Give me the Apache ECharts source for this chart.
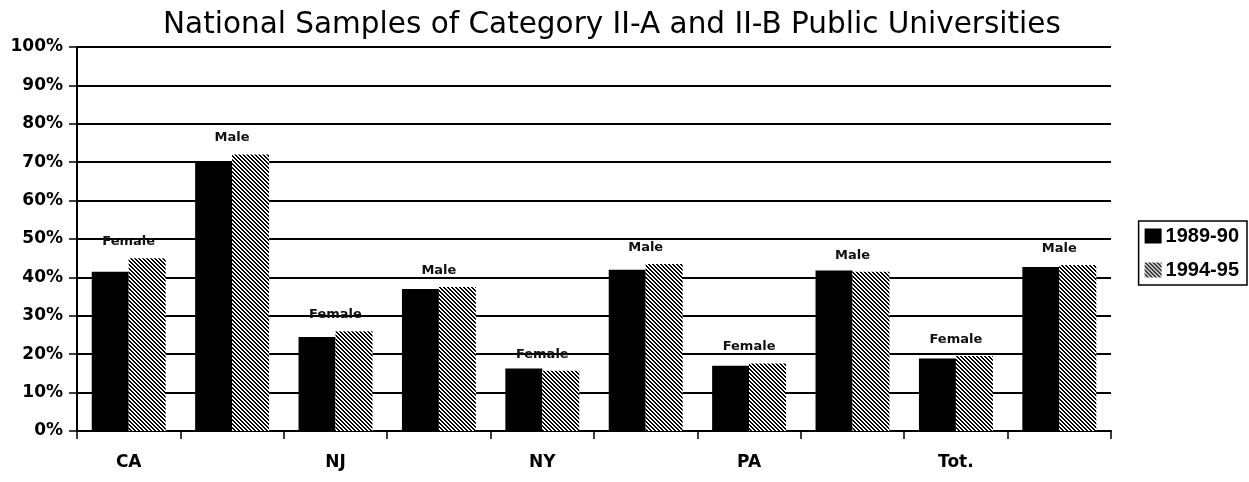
<!DOCTYPE html>
<html>
<head>
<meta charset="utf-8">
<script src="https://cdn.jsdelivr.net/npm/echarts@6/dist/echarts.min.js"></script>
<style>
  html, body { margin: 0; padding: 0; background: #fff; }
  #chart { width: 1249px; height: 482px; }
</style>
</head>
<body>
<div id="chart"></div>
<script>
// chart data
const states = ['CA', 'NJ', 'NY', 'PA', 'Tot.']
const genders = ['Female', 'Male']
const yearA = [41.5, 70, 24.5, 37, 16.3, 42, 17, 41.8, 18.9, 42.7]   // 1989-90
const yearB = [45, 72, 26, 37.5, 15.7, 43.5, 17.6, 41.5, 19.5, 43.2] // 1994-95
const yTicks = [0, 10, 20, 30, 40, 50, 60, 70, 80, 90, 100]

// one category per state/gender pair
const categories = []
states.forEach(s => genders.forEach(g => categories.push(s + ' ' + g)))

// "\\\" stripes, 2px black / 2px white
function hatch() {
  const c = document.createElement('canvas')
  c.width = 8
  c.height = 8
  const ctx = c.getContext('2d')
  ctx.fillStyle = '#fff'
  ctx.fillRect(0, 0, 8, 8)
  ctx.fillStyle = '#000'
  for (let y = 0; y < 8; y++) {
    for (let x = 0; x < 8; x++) {
      if (((x - y) % 4 + 4) % 4 < 2) ctx.fillRect(x, y, 1, 1)
    }
  }
  return c
}

const chart = echarts.init(document.getElementById('chart'))

const option = {
  animation: false,
  textStyle: { fontFamily: 'Liberation Sans, Arial, sans-serif' },
  title: {
    text: 'National Samples of Category II-A and II-B Public Universities',
    left: 158,
    top: 5,
    textStyle: { fontFamily: 'DejaVu Sans', fontSize: 29.5, fontWeight: 'normal', color: '#000' }
  },
  legend: {
    orient: 'vertical',
    right: 2,
    top: 221,
    icon: 'rect',
    itemWidth: 17,
    itemHeight: 15,
    itemGap: 14,
    padding: [5, 8, 5, 6],
    borderColor: '#000',
    borderWidth: 1.5,
    textStyle: { fontSize: 20, fontWeight: 'bold', color: '#000', padding: [0, 0, 0, -1] },
    data: ['1989-90', '1994-95']
  },
  grid: { left: 77, right: 138, top: 47, bottom: 51 },
  xAxis: {
    type: 'category',
    data: categories,
    axisLine: { lineStyle: { color: '#000', width: 2 } },
    axisTick: { show: true, length: 8, lineStyle: { color: '#000', width: 1.5 } },
    axisLabel: {
      interval: 0,
      margin: 23,
      fontFamily: 'DejaVu Sans',
      fontSize: 17,
      fontWeight: 'bold',
      color: '#000',
      formatter: (v, i) => (i % 2 === 0 ? states[i / 2] : '')
    }
  },
  yAxis: {
    type: 'value',
    min: 0,
    max: 100,
    interval: 10,
    axisLine: { show: true, lineStyle: { color: '#000', width: 2 } },
    axisTick: { show: true, length: 8, lineStyle: { color: '#000', width: 1.5 } },
    axisLabel: {
      margin: 14,
      fontFamily: 'DejaVu Sans',
      fontSize: 17,
      fontWeight: 'bold',
      color: '#000',
      formatter: v => (yTicks.includes(v) ? v + '%' : '')
    },
    splitLine: { lineStyle: { color: '#000', width: 2 } }
  },
  series: [
    {
      name: '1989-90',
      type: 'bar',
      barGap: '0%',
      barCategoryGap: '28.5%',
      itemStyle: { color: '#000' },
      data: yearA
    },
    {
      name: '1994-95',
      type: 'bar',
      barGap: '0%',
      barCategoryGap: '28.5%',
      itemStyle: { color: { image: hatch(), repeat: 'repeat' } },
      label: {
        show: true,
        position: 'top',
        distance: 10,
        offset: [-18.5, 0],
        fontFamily: 'DejaVu Sans',
        fontSize: 13,
        fontWeight: 'bold',
        color: '#111',
        formatter: p => genders[p.dataIndex % 2]
      },
      data: yearB
    }
  ]
}

chart.setOption(option)
</script>
</body>
</html>
